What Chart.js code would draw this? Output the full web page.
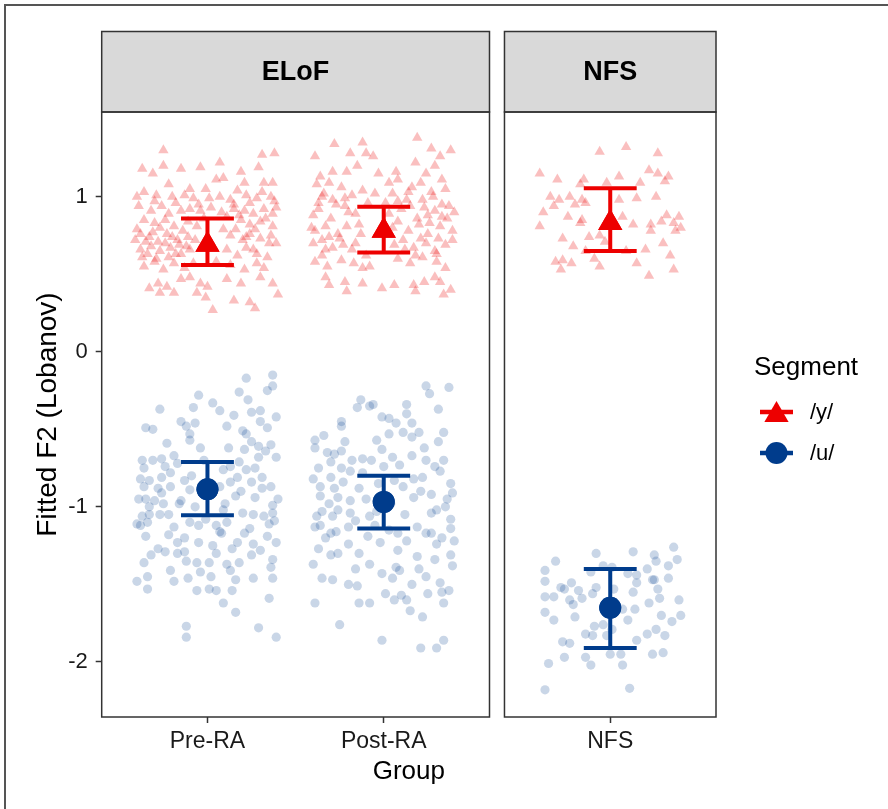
<!DOCTYPE html>
<html>
<head>
<meta charset="utf-8">
<script src="https://cdn.jsdelivr.net/npm/chart.js@4.4.1/dist/chart.umd.min.js"></script>
<style>
  html, body { margin: 0; padding: 0; background: #fff; }
  #wrap { width: 888px; height: 809px; }
</style>
</head>
<body>
<div id="wrap"><canvas id="chart" width="888" height="809"></canvas></div>
<script>
// groups along the x axis and the facet each one belongs to
const groups = ['Pre-RA', 'Post-RA', 'NFS'];
const facets = ['ELoF', 'NFS'];
const groupFacet = [0, 0, 1];
const segments = ['/y/', '/u/'];

// fitted means with error bar ends, per group
const yMean = [0.69, 0.78, 0.83];
const yLower = [0.56, 0.64, 0.65];
const yUpper = [0.86, 0.935, 1.055];
const uMean = [-0.886, -0.968, -1.65];
const uLower = [-1.054, -1.14, -1.91];
const uUpper = [-0.71, -0.80, -1.40];

// jittered observations: [jitter offset, fitted F2]
const yPreRA = [[-0.25,1.30],[0.31,1.27],[0.38,1.28],[-0.37,1.18],[-0.31,1.15],[-0.25,1.20],[-0.15,1.18],[-0.04,1.19],[0.07,1.22],[0.19,1.16],[0.29,1.19],
  [0.05,1.11],[0.09,1.12],[-0.22,1.08],[0.21,1.09],[0.32,1.09],[0.37,1.09],[-0.10,1.05],[-0.01,1.05],[0.17,1.04],
  [-0.36,1.03],[-0.40,1.00],[-0.29,1.01],[-0.20,1.00],[-0.13,1.01],[-0.08,0.99],[0.01,0.99],[0.07,1.00],[0.13,0.98],[0.22,1.01],[0.28,0.99],[0.36,1.00],[0.38,0.97],
  [-0.39,0.94],[-0.32,0.91],[-0.26,0.94],[-0.22,0.89],[-0.15,0.91],[-0.10,0.92],[-0.04,0.91],[0.02,0.93],[0.08,0.90],[0.15,0.92],[0.21,0.91],[0.26,0.89],[0.32,0.92],[0.37,0.89],
  [-0.36,0.85],[-0.30,0.83],[-0.24,0.85],[-0.19,0.81],[-0.11,0.84],[-0.06,0.81],[0.19,0.85],[0.24,0.82],[0.30,0.84],[0.37,0.81],[0.09,0.79],
  [-0.41,0.72],[-0.38,0.76],[-0.33,0.74],[-0.28,0.71],[-0.23,0.76],[-0.17,0.72],[-0.11,0.74],[0.13,0.75],[0.20,0.72],[0.24,0.76],[0.30,0.73],[0.36,0.75],[0.39,0.70],
  [-0.38,0.66],[-0.32,0.68],[-0.27,0.65],[-0.21,0.67],[-0.15,0.63],[-0.10,0.66],[0.11,0.66],[0.17,0.62],[0.22,0.67],[0.28,0.63],[0.34,0.61],[-0.37,0.61],
  [-0.36,0.55],[-0.30,0.58],[-0.25,0.53],[-0.19,0.57],[-0.13,0.54],[-0.08,0.57],[0.05,0.58],[0.13,0.56],[0.21,0.53],[0.28,0.57],[0.32,0.54],
  [-0.33,0.41],[-0.28,0.44],[-0.23,0.42],[-0.15,0.47],[-0.10,0.48],[-0.04,0.44],[0.00,0.42],[0.11,0.47],[0.19,0.44],[0.30,0.48],[0.37,0.44],
  [-0.27,0.38],[-0.19,0.38],[-0.06,0.38],[-0.01,0.35],[0.15,0.33],[0.24,0.32],[0.27,0.28],[0.40,0.37],[0.03,0.27],
  [-0.40,0.79],[-0.35,0.71],[-0.31,0.77],[-0.27,0.80],[-0.24,0.70],[-0.20,0.74],[-0.18,0.63],[-0.14,0.78],[-0.12,0.68],[-0.07,0.72],
  [-0.34,0.63],[-0.29,0.60],[-0.22,0.61],[-0.16,0.69],[0.15,0.95],[0.18,0.88],[0.24,0.96],[0.27,0.79],[0.33,0.86],[0.35,0.70],
  [0.39,0.93],[0.16,0.79],[0.22,0.74],[0.31,1.03],[0.26,0.66],[-0.05,0.95],[-0.18,0.96],[-0.30,0.97],[0.11,0.87],[-0.02,0.86]];

const yPostRA = [[0.19,1.38],[-0.28,1.34],[-0.12,1.35],[-0.39,1.26],[-0.19,1.28],[-0.10,1.28],[-0.06,1.26],[0.27,1.31],[0.38,1.30],[0.32,1.26],
  [-0.29,1.16],[-0.21,1.16],[-0.15,1.20],[0.18,1.22],[0.29,1.20],[-0.03,1.15],[0.07,1.16],[0.24,1.15],[0.33,1.11],[-0.36,1.13],
  [-0.38,1.08],[-0.31,1.09],[-0.24,1.06],[-0.12,1.04],[0.03,1.09],[0.08,1.11],[0.14,1.03],[0.21,1.09],[0.27,1.03],[0.35,1.05],[-0.05,1.02],[-0.18,1.01],[-0.35,1.00],
  [-0.37,0.96],[-0.29,0.98],[-0.22,0.94],[-0.16,0.89],[0.08,0.97],[0.15,0.94],[0.22,0.98],[0.29,0.91],[0.37,0.94],[0.03,0.89],[0.25,0.88],[0.33,0.87],[-0.40,0.88],
  [-0.39,0.78],[-0.33,0.81],[-0.26,0.76],[-0.21,0.81],[-0.13,0.76],[0.08,0.84],[0.14,0.78],[0.20,0.82],[0.25,0.76],[0.32,0.81],[0.39,0.78],[-0.31,0.74],
  [-0.40,0.70],[-0.35,0.72],[-0.29,0.67],[-0.23,0.69],[-0.16,0.70],[0.06,0.69],[0.11,0.72],[0.17,0.67],[0.24,0.70],[0.29,0.65],[0.35,0.69],[0.39,0.72],[-0.10,0.62],[-0.35,0.62],
  [-0.39,0.58],[-0.32,0.55],[-0.24,0.59],[-0.17,0.57],[0.08,0.60],[0.15,0.57],[0.22,0.61],[0.30,0.58],[0.35,0.54],[-0.12,0.54],[-0.08,0.55],
  [-0.33,0.48],[-0.31,0.43],[-0.22,0.45],[-0.21,0.39],[-0.12,0.44],[-0.01,0.41],[0.06,0.43],[0.17,0.43],[0.23,0.45],[0.29,0.48],[0.32,0.45],[0.38,0.40],[0.34,0.37],[0.18,0.39],
  [-0.41,0.80],[-0.37,0.92],[-0.34,1.02],[-0.30,0.86],[-0.27,0.95],[-0.25,0.73],[-0.20,0.90],[-0.18,0.66],[-0.14,0.82],[-0.33,0.66],
  [0.05,0.80],[0.10,0.92],[0.12,0.66],[0.16,1.06],[0.19,0.86],[0.21,0.73],[0.23,0.93],[0.26,0.83],[0.28,1.00],[0.31,0.73],
  [0.33,0.95],[0.36,0.86],[0.40,0.90],[0.13,0.98],[0.18,0.62],[0.30,0.63],[-0.22,0.99],[-0.09,0.96],[0.01,0.96],[0.05,1.02]];

const yNFS = [[-0.06,1.29],[0.09,1.32],[0.27,1.28],[-0.40,1.15],[-0.30,1.11],[-0.15,1.11],[0.05,1.13],[0.22,1.17],[0.27,1.15],[0.33,1.13],[0.31,1.10],[0.17,1.09],[-0.17,1.08],[-0.02,1.09],
  [-0.34,1.00],[-0.29,0.98],[-0.23,1.00],[-0.16,0.98],[-0.32,0.94],[-0.20,0.95],[-0.14,0.96],[0.05,0.98],[0.15,0.99],[0.26,1.00],
  [-0.38,0.90],[-0.24,0.87],[-0.16,0.85],[0.07,0.87],[0.32,0.88],[0.39,0.87],[-0.40,0.81],[-0.17,0.83],[0.13,0.82],[0.23,0.82],[0.29,0.84],[0.36,0.83],[0.40,0.80],
  [-0.27,0.73],[-0.12,0.74],[-0.06,0.75],[-0.03,0.71],[0.23,0.78],[0.37,0.78],[-0.21,0.68],[-0.14,0.65],[0.20,0.66],[0.30,0.70],[0.09,0.65],
  [-0.31,0.58],[-0.27,0.59],[-0.22,0.57],[-0.09,0.60],[0.15,0.57],[0.34,0.62],[-0.28,0.53],[-0.06,0.55],[0.22,0.49],[0.36,0.53]];

const uPreRA = [[0.37,-0.15],[0.22,-0.17],[-0.05,-0.28],[0.18,-0.26],[0.34,-0.25],[0.37,-0.22],[-0.27,-0.37],[-0.08,-0.36],[0.03,-0.33],[0.07,-0.38],[0.23,-0.31],[0.15,-0.41],[0.25,-0.39],[0.30,-0.38],[0.39,-0.42],
  [-0.35,-0.49],[-0.31,-0.50],[-0.15,-0.45],[-0.07,-0.46],[-0.12,-0.48],[0.11,-0.48],[0.20,-0.51],[0.30,-0.45],[0.34,-0.49],
  [-0.23,-0.59],[-0.10,-0.57],[-0.04,-0.62],[-0.10,-0.53],[0.22,-0.53],[0.25,-0.58],[0.29,-0.61],[0.21,-0.63],[0.36,-0.60],[0.39,-0.68],[-0.19,-0.67],
  [-0.37,-0.70],[-0.31,-0.70],[-0.26,-0.69],[-0.24,-0.74],[-0.36,-0.75],[-0.17,-0.72],[0.09,-0.76],[0.13,-0.74],[0.18,-0.71],[0.22,-0.76],[0.27,-0.75],[0.29,-0.68],
  [0.17,-0.81],[0.31,-0.81],[-0.38,-0.82],[-0.33,-0.83],[-0.26,-0.81],[-0.21,-0.87],[-0.36,-0.87],[-0.28,-0.88],[-0.13,-0.83],[-0.10,-0.89],[0.07,-0.87],[0.13,-0.84],[0.36,-0.87],[0.31,-0.88],
  [-0.39,-0.95],[-0.35,-0.95],[-0.26,-0.91],[-0.15,-0.96],[-0.16,-0.98],[-0.07,-1.00],[0.10,-0.98],[0.16,-0.93],[0.37,-0.99],[-0.33,-1.00],
  [-0.33,-1.05],[-0.38,-1.12],[-0.34,-1.10],[-0.27,-1.05],[-0.22,-1.05],[-0.10,-1.10],[-0.05,-1.12],[-0.01,-1.08],[0.05,-1.12],[0.11,-1.10],[0.07,-1.16],[0.20,-1.04],[0.26,-1.05],[0.32,-1.06],[0.38,-1.09],[0.37,-1.04],[0.24,-1.14],
  [-0.35,-1.19],[-0.22,-1.18],[-0.17,-1.23],[-0.05,-1.23],[0.08,-1.17],[0.17,-1.23],[0.26,-1.24],[0.34,-1.19],[0.39,-1.23],
  [-0.24,-1.29],[-0.17,-1.30],[-0.13,-1.29],[0.05,-1.30],[0.11,-1.37],[0.25,-1.31],[0.37,-1.34],[-0.36,-1.36],[-0.21,-1.41],[-0.12,-1.35],[0.01,-1.36],[0.18,-1.36],[0.36,-1.39],
  [-0.34,-1.45],[-0.40,-1.48],[-0.19,-1.48],[-0.11,-1.46],[-0.04,-1.42],[0.13,-1.41],[0.16,-1.47],[0.26,-1.46],[0.37,-1.46],
  [-0.34,-1.53],[-0.06,-1.54],[0.01,-1.53],[0.05,-1.54],[0.14,-1.54],[0.09,-1.62],[0.35,-1.59],[0.16,-1.68],[-0.12,-1.77],[-0.12,-1.84],[0.29,-1.78],[0.39,-1.84],
  [-0.40,-1.11],[-0.37,-1.06],[-0.30,-0.96],[-0.28,-1.27],[-0.25,-0.98],[-0.19,-1.13],[-0.13,-1.20],[-0.09,-0.80],[-0.02,-0.70],[0.03,-1.25],
  [0.09,-1.02],[0.14,-1.27],[0.19,-0.90],[0.21,-1.17],[0.27,-0.94],[0.30,-1.28],[0.33,-0.64],[0.35,-1.11],[0.40,-0.95],[0.25,-0.84],
  [-0.32,-1.31],[-0.21,-0.78],[0.12,-0.62],[-0.06,-1.36],[0.02,-1.45]];

const uPostRA = [[0.24,-0.22],[0.26,-0.27],[0.37,-0.23],[-0.13,-0.31],[-0.15,-0.36],[-0.08,-0.35],[-0.06,-0.34],[0.13,-0.34],[0.13,-0.40],[0.31,-0.37],
  [-0.24,-0.45],[-0.24,-0.48],[-0.01,-0.42],[0.03,-0.43],[0.07,-0.46],[-0.34,-0.54],[-0.39,-0.57],[-0.39,-0.62],[0.03,-0.53],[0.11,-0.52],[0.16,-0.55],[0.20,-0.52],[0.34,-0.52],[-0.04,-0.57],[-0.01,-0.63],
  [-0.32,-0.65],[-0.28,-0.66],[-0.24,-0.64],[-0.18,-0.70],[-0.12,-0.69],[-0.07,-0.70],[0.05,-0.68],[0.09,-0.73],[0.16,-0.67],[0.24,-0.70],[0.29,-0.74],[0.34,-0.70],
  [-0.37,-0.75],[-0.40,-0.82],[-0.36,-0.87],[-0.30,-0.81],[-0.24,-0.75],[-0.19,-0.77],[-0.28,-0.88],[-0.23,-0.84],[-0.14,-0.88],[-0.19,-0.96],[0.06,-0.83],[0.11,-0.87],[0.17,-0.82],[0.22,-0.81],[0.21,-0.90],[0.27,-0.92],[0.32,-0.77],[0.39,-0.91],[0.38,-0.85],
  [-0.31,-0.98],[-0.26,-0.94],[-0.35,-1.03],[-0.38,-1.06],[-0.39,-1.13],[-0.36,-1.12],[-0.30,-1.17],[-0.27,-1.16],[-0.29,-1.06],[-0.20,-1.13],[-0.16,-1.09],[-0.08,-1.06],[-0.04,-1.03],
  [-0.09,-1.19],[-0.02,-1.23],[0.03,-1.15],[0.08,-1.17],[0.13,-1.22],[0.19,-1.13],[0.24,-1.17],[0.27,-1.17],[0.33,-1.20],[0.38,-1.14],[0.38,-1.08],[0.30,-1.02],[0.35,-1.00],
  [-0.37,-1.27],[-0.30,-1.31],[-0.26,-1.30],[-0.20,-1.24],[-0.14,-1.30],[-0.08,-1.37],[-0.01,-1.43],[0.07,-1.39],[0.09,-1.41],[0.19,-1.32],[0.29,-1.34],[0.38,-1.31],[0.39,-1.38],[-0.40,-1.37],
  [-0.35,-1.46],[-0.29,-1.47],[-0.20,-1.50],[-0.15,-1.51],[0.01,-1.56],[0.10,-1.57],[0.16,-1.50],[0.24,-1.45],[0.32,-1.49],[0.37,-1.54],[0.33,-1.55],
  [-0.39,-1.62],[-0.14,-1.62],[-0.08,-1.62],[0.06,-1.60],[0.13,-1.60],[0.15,-1.67],[0.22,-1.71],[0.25,-1.56],[0.34,-1.62],
  [-0.25,-1.76],[-0.01,-1.86],[0.21,-1.91],[0.30,-1.91],[0.34,-1.86],
  [-0.36,-0.93],[-0.33,-1.20],[-0.26,-1.02],[-0.22,-0.58],[-0.19,-1.04],[-0.12,-0.78],[-0.10,-0.95],[-0.05,-1.12],[0.00,-0.74],[0.04,-0.98],
  [0.08,-1.28],[0.12,-1.05],[0.17,-0.94],[0.20,-1.40],[0.23,-0.62],[0.27,-1.04],[0.30,-1.24],[0.36,-0.95],[0.40,-1.22],[0.16,-0.46],
  [-0.30,-0.71],[-0.16,-1.40],[0.05,-1.46],[0.31,-0.58],[-0.03,-0.85]];

const uNFS = [[0.36,-1.26],[0.13,-1.29],[-0.08,-1.30],[0.25,-1.31],[0.38,-1.34],[-0.31,-1.35],[0.26,-1.35],[0.21,-1.40],[0.33,-1.38],[-0.37,-1.41],[-0.04,-1.38],[0.01,-1.39],
  [0.10,-1.43],[0.15,-1.44],[0.24,-1.47],[0.33,-1.46],[-0.37,-1.48],[-0.11,-1.42],[0.15,-1.49],[0.25,-1.47],
  [-0.28,-1.52],[-0.26,-1.53],[-0.22,-1.49],[-0.18,-1.54],[-0.08,-1.52],[0.02,-1.53],[0.13,-1.55],[0.27,-1.53],
  [-0.37,-1.58],[-0.32,-1.58],[-0.23,-1.60],[-0.21,-1.63],[-0.16,-1.59],[-0.10,-1.56],[0.28,-1.59],[0.39,-1.60],[0.22,-1.62],
  [-0.37,-1.68],[-0.32,-1.73],[-0.20,-1.71],[0.07,-1.66],[0.10,-1.73],[0.14,-1.66],[0.29,-1.70],[0.35,-1.74],[0.40,-1.70],
  [-0.09,-1.77],[-0.10,-1.83],[-0.04,-1.76],[-0.02,-1.83],[-0.14,-1.82],[0.01,-1.79],[0.21,-1.82],[0.26,-1.79],[0.31,-1.83],[0.15,-1.86],
  [-0.27,-1.87],[-0.23,-1.88],[-0.26,-1.97],[-0.14,-1.97],[-0.11,-2.02],[0.00,-1.95],[0.06,-1.95],[0.07,-2.02],[0.24,-1.95],[0.30,-1.94],
  [-0.35,-2.01],[-0.37,-2.18],[0.11,-2.17]];

const yTicks = [-2, -1, 0, 1];

// ---- layout / styling ----
const RED = 'rgb(237,0,0)';
const RED_A = 'rgba(237,0,0,0.25)';
const BLUE = 'rgb(0,60,140)';
const BLUE_A = 'rgba(0,60,140,0.21)';
const FONT = '"Liberation Sans", Arial, Helvetica, sans-serif';
const PANEL_GAP = 0.085;  // space between facets, in x units

// x position of each group: discrete slots with 0.6 expansion per facet
function groupX(i) {
  let x = 0, prevFacet = -1;
  for (let k = 0; k <= i; k++) {
    if (groupFacet[k] !== prevFacet) {
      x += (prevFacet < 0 ? 1 : 0.6 + PANEL_GAP + 0.6);
      prevFacet = groupFacet[k];
    } else {
      x += 1;
    }
  }
  return x;
}
const catX = groups.map((g, i) => groupX(i));
const X_MIN = 0.4;
const X_MAX = catX[catX.length - 1] + 0.6;

function facetRange(f) {
  const xs = catX.filter((x, i) => groupFacet[i] === f);
  return [Math.min(...xs) - 0.6, Math.max(...xs) + 0.6];
}

function jitterData(arrs) {
  const out = [];
  arrs.forEach((arr, gi) => arr.forEach(p => out.push({ x: catX[gi] + p[0], y: p[1] })));
  return out;
}

const bgPlugin = {
  id: 'bg',
  beforeDraw(chart) {
    const ctx = chart.ctx;
    ctx.save();
    ctx.fillStyle = '#fff';
    ctx.fillRect(0, 0, chart.width, chart.height);
    ctx.strokeStyle = '#555';
    ctx.lineWidth = 2;
    ctx.beginPath();
    ctx.moveTo(5, chart.height);
    ctx.lineTo(5, 5);
    ctx.lineTo(chart.width, 5);
    ctx.stroke();
    ctx.restore();
  }
};

const facetPlugin = {
  id: 'facets',
  beforeDatasetsDraw(chart) {
    const ctx = chart.ctx, xs = chart.scales.x, area = chart.chartArea;
    ctx.save();
    facets.forEach((name, f) => {
      const [a, b] = facetRange(f);
      const l = xs.getPixelForValue(a), r = xs.getPixelForValue(b);
      const top = 31.5;
      ctx.fillStyle = '#d9d9d9';
      ctx.fillRect(l, top, r - l, area.top - top);
      ctx.strokeStyle = '#333';
      ctx.lineWidth = 1.5;
      ctx.strokeRect(l, top, r - l, area.top - top);
      ctx.fillStyle = '#000';
      ctx.font = 'bold 27px ' + FONT;
      ctx.textAlign = 'center';
      ctx.textBaseline = 'middle';
      ctx.fillText(name, (l + r) / 2, (top + area.top) / 2 + 1);
    });
    ctx.restore();
  },
  afterDraw(chart) {
    const ctx = chart.ctx, xs = chart.scales.x, area = chart.chartArea;
    ctx.save();
    ctx.strokeStyle = '#333';
    ctx.lineWidth = 1.5;
    facets.forEach((name, f) => {
      const [a, b] = facetRange(f);
      const l = xs.getPixelForValue(a), r = xs.getPixelForValue(b);
      ctx.strokeRect(l, area.top, r - l, area.bottom - area.top);
    });
    ctx.restore();
  }
};

const errorBarPlugin = {
  id: 'errorbars',
  afterDatasetsDraw(chart) {
    const ctx = chart.ctx, xs = chart.scales.x, ys = chart.scales.y;
    const sets = [[yLower, yUpper, RED], [uLower, uUpper, BLUE]];
    ctx.save();
    ctx.lineWidth = 4;
    sets.forEach(([lo, hi, col]) => {
      ctx.strokeStyle = col;
      catX.forEach((cx, i) => {
        const x = xs.getPixelForValue(cx);
        const x0 = xs.getPixelForValue(cx - 0.15), x1 = xs.getPixelForValue(cx + 0.15);
        const y0 = ys.getPixelForValue(lo[i]), y1 = ys.getPixelForValue(hi[i]);
        ctx.beginPath();
        ctx.moveTo(x, y0); ctx.lineTo(x, y1);
        ctx.moveTo(x0, y0); ctx.lineTo(x1, y0);
        ctx.moveTo(x0, y1); ctx.lineTo(x1, y1);
        ctx.stroke();
      });
    });
    // redraw means over the bars
    chart.getDatasetMeta(0).data.forEach(el => el.draw(ctx));
    chart.getDatasetMeta(1).data.forEach(el => el.draw(ctx));
    ctx.restore();
  }
};

const legendPlugin = {
  id: 'segLegend',
  afterDraw(chart) {
    const ctx = chart.ctx;
    ctx.save();
    ctx.fillStyle = '#000';
    ctx.textBaseline = 'middle';
    ctx.textAlign = 'left';
    ctx.font = '26px ' + FONT;
    ctx.fillText('Segment', 754, 368);
    const cols = [RED, BLUE], styles = ['triangle', 'circle'], rads = [14, 11];
    segments.forEach((s, i) => {
      const cy = 412 + i * 41;
      ctx.strokeStyle = cols[i];
      ctx.lineWidth = 4.5;
      ctx.beginPath();
      ctx.moveTo(760, cy); ctx.lineTo(793, cy);
      ctx.stroke();
      ctx.fillStyle = cols[i];
      Chart.helpers.drawPoint(ctx, { pointStyle: styles[i], radius: rads[i], borderWidth: 0 }, 776.5, styles[i] === 'triangle' ? cy + 3 : cy);
      ctx.fillStyle = '#000';
      ctx.font = '22px ' + FONT;
      ctx.fillText(s, 810, cy + 1);
    });
    ctx.restore();
  }
};

new Chart(document.getElementById('chart'), {
  type: 'scatter',
  data: {
    datasets: [
      { label: segments[0], data: catX.map((x, i) => ({ x, y: yMean[i] })), pointStyle: 'triangle', pointRadius: 14, backgroundColor: RED, borderWidth: 0 },
      { label: segments[1], data: catX.map((x, i) => ({ x, y: uMean[i] })), pointStyle: 'circle', pointRadius: 11, backgroundColor: BLUE, borderWidth: 0 },
      { label: segments[0] + ' obs', data: jitterData([yPreRA, yPostRA, yNFS]), pointStyle: 'triangle', pointRadius: 6, backgroundColor: RED_A, borderWidth: 0 },
      { label: segments[1] + ' obs', data: jitterData([uPreRA, uPostRA, uNFS]), pointStyle: 'circle', pointRadius: 4.6, backgroundColor: BLUE_A, borderWidth: 0 }
    ]
  },
  options: {
    responsive: false,
    animation: false,
    events: [],
    layout: { padding: { left: 0, right: 172, top: 112, bottom: 0 } },
    plugins: { legend: { display: false }, tooltip: { enabled: false } },
    scales: {
      x: {
        type: 'linear',
        min: X_MIN,
        max: X_MAX,
        afterBuildTicks: s => { s.ticks = catX.map(v => ({ value: v })); },
        afterFit: s => { s.height = 92; },
        border: { display: false },
        grid: { drawOnChartArea: false, tickLength: 6, color: '#333', tickWidth: 1.5 },
        ticks: { callback: (v, i) => groups[i], font: { family: FONT, size: 23 }, color: '#1a1a1a', padding: 5, maxRotation: 0, autoSkip: false },
        title: { display: true, text: 'Group', font: { family: FONT, size: 26 }, color: '#000', padding: { top: 0, bottom: 22 } }
      },
      y: {
        min: -2.355,
        max: 1.546,
        afterBuildTicks: s => { s.ticks = yTicks.map(v => ({ value: v })); },
        afterFit: s => { s.width = 101.7; },
        border: { display: false },
        grid: { drawOnChartArea: false, tickLength: 6, color: '#333', tickWidth: 1.5 },
        ticks: { font: { family: FONT, size: 22 }, color: '#1a1a1a', padding: 8 },
        title: { display: true, text: 'Fitted F2 (Lobanov)', font: { family: FONT, size: 28 }, color: '#000', padding: { top: 31, bottom: 0 } }
      }
    }
  },
  plugins: [bgPlugin, facetPlugin, errorBarPlugin, legendPlugin]
});
</script>
</body>
</html>
